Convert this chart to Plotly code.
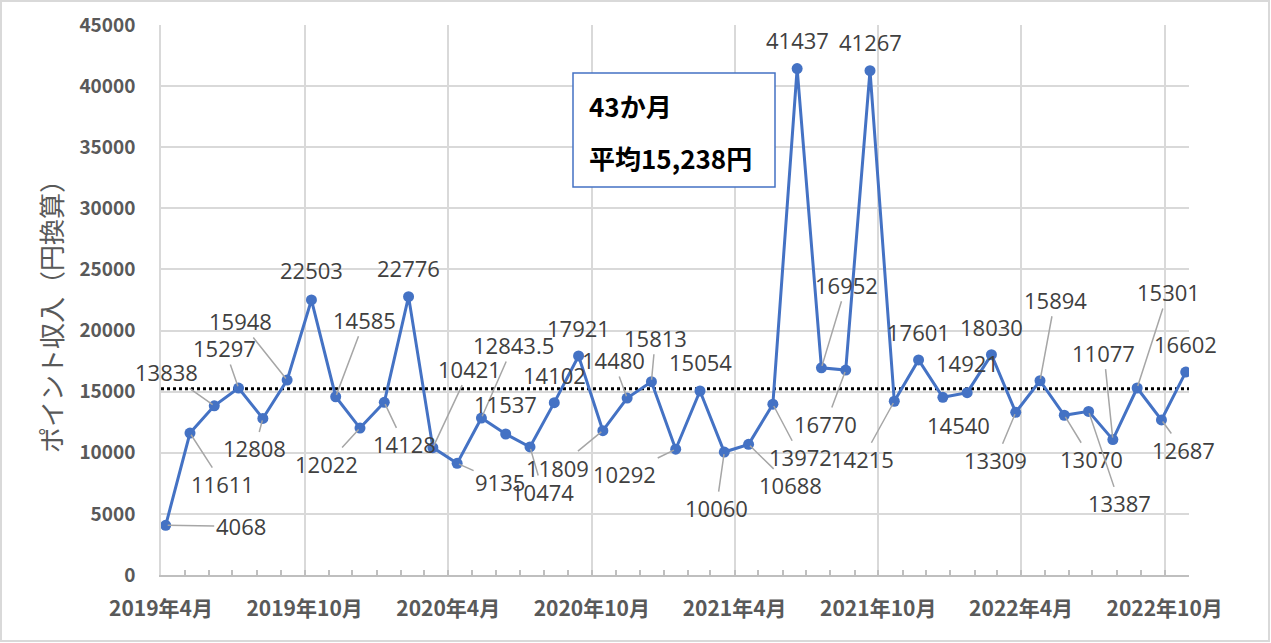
import plotly.graph_objects as go
import pandas as pd

# ---------------- data ----------------
MONTHS = [d.strftime("%Y-%m") for d in pd.date_range("2019-04-01", periods=43, freq="MS")]
POINTS = [4068, 11611, 13838, 15297, 12808, 15948, 22503, 14585, 12022, 14128,
          22776, 10421, 9135, 12843.5, 11537, 10474, 14102, 17921, 11809, 14480,
          15813, 10292, 15054, 10060, 10688, 13972, 41437, 16952, 16770, 41267,
          14215, 17601, 14540, 14921, 18030, 13309, 15894, 13070, 13387, 11077,
          15301, 12687, 16602]
AVERAGE = 15238
TICK_DATES = ["2019-04-01", "2019-10-01", "2020-04-01", "2020-10-01",
              "2021-04-01", "2021-10-01", "2022-04-01", "2022-10-01"]
TICK_LABELS = ["2019年4月", "2019年10月", "2020年4月", "2020年10月",
               "2021年4月", "2021年10月", "2022年4月", "2022年10月"]
X_START, X_END = "2019-04-01", "2022-11-01"
Y_TITLE = "ポイント収入（円換算）"
BOX_LINES = ["43か月", "平均15,238円"]

# label offsets in pixels (ax, ay, leader line)
LABEL_OFFSETS = [
    (75, 1, True), (33, 51, True), (-48, -34, True), (-14, -40, True), (-8, 30, True),
    (-47, -59, True), (0, -30, False), (29, -77, True), (-33, 36, True), (20, 42, True),
    (0, -29, False), (37, -79, True), (43, 19, True), (32, -73, True), (0, -30, False),
    (13, 45, True), (0, -28, False), (0, -28, False), (-45, 37, True), (-14, -38, True),
    (4, -44, True), (-51, 25, True), (0, -29, False), (-8, 56, True), (42, 41, True),
    (28, 53, True), (0, -29, False), (25, -83, True), (-20, 54, True), (0, -29, False),
    (-32, 58, True), (0, -28, False), (16, 28, False), (0, -30, False), (0, -28, False),
    (-20, 48, True), (15, -81, True), (27, 44, True), (31, 92, True), (-9, -87, True),
    (31, -96, True), (22, 30, True), (0, -28, False),
]

BLUE = "#4472C4"
GRID = "#d9d9d9"
CJK = "Noto Sans CJK JP"

# plot area geometry (pixels)
L, R, T, B = 161, 82, 25, 68
W, H = 1271, 643
PW, PH = W - L - R, H - T - B


def px(x):
    return (x - L) / PW


def py(y):
    return (H - B - y) / PH


fig = go.Figure()

# average line on the date axis
fig.add_trace(go.Scatter(
    x=[X_START, X_END], y=[AVERAGE, AVERAGE], mode="lines",
    line=dict(color="black", width=3, dash="dot"),
    xaxis="x", yaxis="y", hoverinfo="skip",
))

# data series on an overlaid category axis
fig.add_trace(go.Scatter(
    x=MONTHS, y=POINTS, mode="lines+markers",
    line=dict(color=BLUE, width=3),
    marker=dict(color=BLUE, size=11),
    xaxis="x2", yaxis="y",
))

annotations = []
for i, (v, (ax, ay, leader)) in enumerate(zip(POINTS, LABEL_OFFSETS)):
    annotations.append(dict(
        x=i, y=v, xref="x2", yref="y",
        text=f"{v:g}", showarrow=True, arrowhead=0, arrowwidth=1.5,
        arrowcolor="#a6a6a6" if leader else "rgba(0,0,0,0)",
        ax=ax, ay=ay, standoff=2,
        font=dict(family="Open Sans", size=22, color="#404040"),
    ))

# y axis title
annotations.append(dict(
    x=px(50), y=py(310), xref="paper", yref="paper", text=Y_TITLE,
    textangle=-90, showarrow=False, xanchor="center", yanchor="middle",
    font=dict(family=CJK, size=26, color="#595959"),
))

# info box text
for txt, yy in zip(BOX_LINES, [106, 157]):
    annotations.append(dict(
        x=px(587), y=py(yy), xref="paper", yref="paper", text=txt,
        showarrow=False, xanchor="left", yanchor="middle",
        font=dict(family=CJK, size=26, color="black", weight="bold"),
    ))

shapes = [
    dict(type="rect", xref="paper", yref="paper",
         x0=px(573), x1=px(775), y0=py(187), y1=py(73),
         line=dict(color=BLUE, width=1.5), fillcolor="white", layer="above"),
    dict(type="rect", xref="paper", yref="paper",
         x0=px(1), x1=px(1269), y0=py(641), y1=py(1),
         line=dict(color=GRID, width=2), fillcolor="rgba(0,0,0,0)", layer="below"),
]

fig.update_layout(
    width=W, height=H,
    margin=dict(l=L, r=R, t=T, b=B, autoexpand=False),
    paper_bgcolor="white", plot_bgcolor="white",
    showlegend=False,
    xaxis=dict(
        type="date", range=[X_START, X_END], automargin=False,
        tickmode="array", tickvals=TICK_DATES, ticktext=TICK_LABELS,
        showgrid=True, gridcolor=GRID, gridwidth=1.5,
        showline=True, linecolor="#bfbfbf", linewidth=1.5,
        ticks="inside", ticklen=5, tickcolor="#bfbfbf", tickwidth=1.5,
        minor=dict(dtick="M1", tick0="2019-04-01", ticks="inside", ticklen=5,
                   tickcolor="#bfbfbf", tickwidth=1.5, showgrid=False),
        tickfont=dict(family=CJK, size=21, color="#595959", weight="bold"),
        ticklabelstandoff=14,
        zeroline=False,
    ),
    xaxis2=dict(
        type="category", overlaying="x", range=[-0.1935, 42.135],
        visible=False, showgrid=False, automargin=False,
    ),
    yaxis=dict(
        range=[0, 45000], dtick=5000, tick0=0, tickformat="d", automargin=False,
        showgrid=True, gridcolor=GRID, gridwidth=1.5,
        showline=True, linecolor=GRID, linewidth=1.5,
        zeroline=False, ticks="",
        tickfont=dict(family=CJK, size=19, color="#595959", weight="bold"),
        ticklabelstandoff=20,
    ),
    annotations=annotations,
    shapes=shapes,
)

fig.write_html(
    "out.html",
    config={"displayModeBar": False},
    post_script="document.body.style.margin='0';document.body.style.overflow='hidden';",
)
